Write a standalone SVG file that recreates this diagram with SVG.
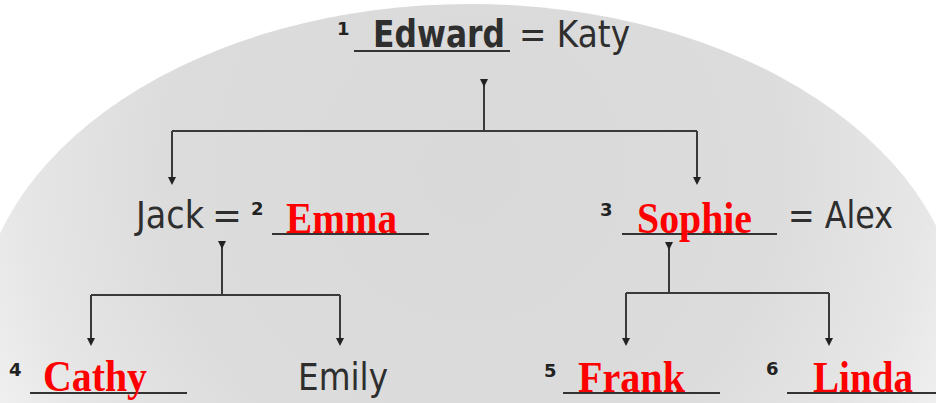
<svg xmlns="http://www.w3.org/2000/svg" width="936" height="403" viewBox="0 0 936 403">
<style>
.dk{font-family:"DejaVu Sans","Liberation Sans",sans-serif;fill:#2e2e2e;font-size:37px}
.ed{font-weight:bold}
.sup{font-family:"DejaVu Sans","Liberation Sans",sans-serif;font-weight:bold;fill:#222;font-size:18px}
.red{font-family:"Liberation Serif","Times New Roman",serif;font-weight:bold;fill:#ff0000;font-size:44px}
.ul{stroke:#333;stroke-width:2.2;fill:none}
.cn{stroke:#3a3a3a;stroke-width:2;fill:none}
</style>
<defs>
<radialGradient id="bg" gradientUnits="userSpaceOnUse" cx="470" cy="170" r="560">
<stop offset="0" stop-color="#d9d9d9"/>
<stop offset="0.55" stop-color="#dcdcdc"/>
<stop offset="0.8" stop-color="#e6e6e6"/>
<stop offset="1" stop-color="#f4f4f4"/>
</radialGradient>
<marker id="ah" viewBox="0 0 10 10" refX="5" refY="5" markerWidth="8" markerHeight="9" markerUnits="userSpaceOnUse" orient="auto">
<path d="M0,0 L10,5 L0,10 z" fill="#222"/>
</marker>
</defs>
<rect width="936" height="403" fill="#ffffff"/>
<ellipse cx="470" cy="330" rx="492" ry="326" fill="url(#bg)"/>

<g id="connectors">
<path class="cn" d="M484,83 V131" marker-start="url(#ah)"/>
<path class="cn" d="M172,131 H697"/>
<path class="cn" d="M172,131 V181" marker-end="url(#ah)"/>
<path class="cn" d="M697,131 V181" marker-end="url(#ah)"/>
<path class="cn" d="M222,245 V295" marker-start="url(#ah)"/>
<path class="cn" d="M91,295 H340"/>
<path class="cn" d="M91,295 V342" marker-end="url(#ah)"/>
<path class="cn" d="M340,295 V342" marker-end="url(#ah)"/>
<path class="cn" d="M669,246 V293" marker-start="url(#ah)"/>
<path class="cn" d="M626,293 H829"/>
<path class="cn" d="M626,293 V342" marker-end="url(#ah)"/>
<path class="cn" d="M829,293 V342" marker-end="url(#ah)"/>
</g>

<g id="n1">
<text class="sup" x="337" y="35" font-size="22">1</text>
<text class="dk ed" x="373" y="47" textLength="132" lengthAdjust="spacingAndGlyphs">Edward</text>
<line class="ul" x1="354" y1="51" x2="510" y2="51"/>
<text class="dk" x="519" y="47" textLength="111" lengthAdjust="spacingAndGlyphs">= Katy</text>
</g>

<g id="n2">
<text class="dk" x="136" y="228" textLength="68" lengthAdjust="spacingAndGlyphs">Jack</text>
<text class="dk" x="212" y="228" textLength="30" lengthAdjust="spacingAndGlyphs">=</text>
<text class="sup" x="251" y="215">2</text>
<line class="ul" x1="272" y1="234" x2="429" y2="234"/>
<text class="red" x="286" y="233" textLength="111" lengthAdjust="spacingAndGlyphs">Emma</text>
</g>

<g id="n3">
<text class="sup" x="600" y="216">3</text>
<line class="ul" x1="622" y1="234" x2="777" y2="234"/>
<text class="red" x="637" y="233" textLength="115" lengthAdjust="spacingAndGlyphs">Sophie</text>
<text class="dk" x="788" y="228" textLength="105" lengthAdjust="spacingAndGlyphs">= Alex</text>
</g>

<g id="n4">
<text class="sup" x="9" y="376">4</text>
<line class="ul" x1="30" y1="393" x2="187" y2="393"/>
<text class="red" x="43" y="391" textLength="104" lengthAdjust="spacingAndGlyphs">Cathy</text>
</g>

<g id="n-emily">
<text class="dk" x="298" y="390" textLength="90" lengthAdjust="spacingAndGlyphs">Emily</text>
</g>

<g id="n5">
<text class="sup" x="544" y="377">5</text>
<line class="ul" x1="563" y1="393" x2="720" y2="393"/>
<text class="red" x="578" y="392" textLength="107" lengthAdjust="spacingAndGlyphs">Frank</text>
</g>

<g id="n6">
<text class="sup" x="766" y="375">6</text>
<line class="ul" x1="787" y1="393" x2="936" y2="393"/>
<text class="red" x="813" y="392" textLength="100" lengthAdjust="spacingAndGlyphs">Linda</text>
</g>
</svg>
